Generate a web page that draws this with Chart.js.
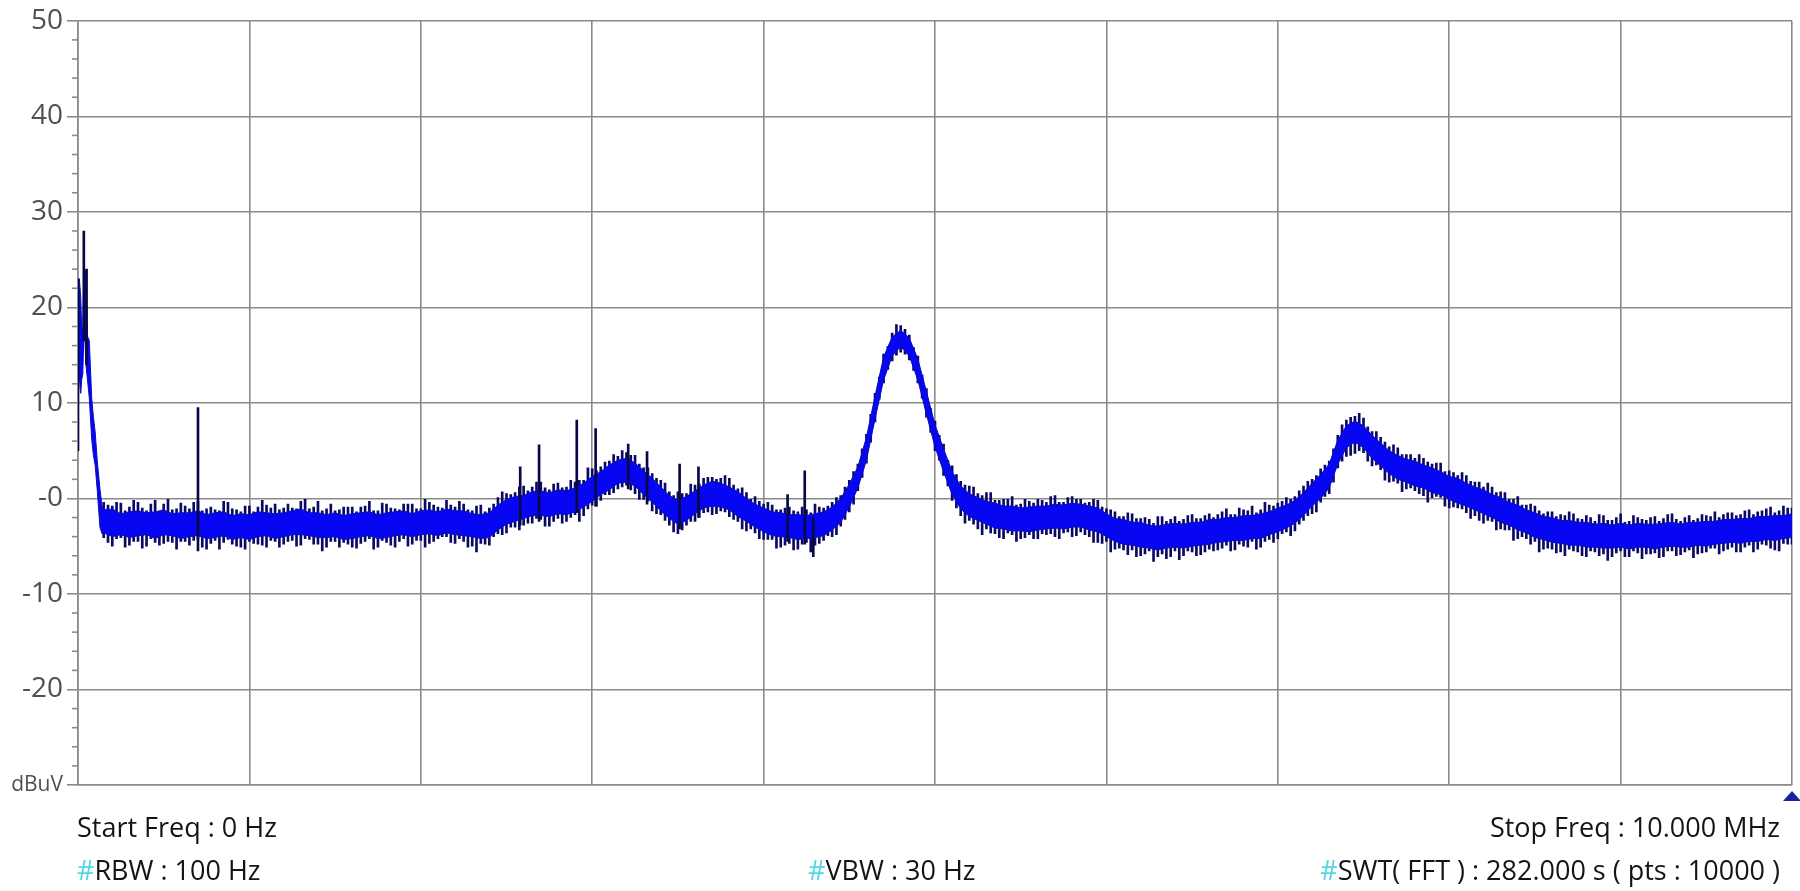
<!DOCTYPE html>
<html>
<head>
<meta charset="utf-8">
<title>Spectrum 0 - 10 MHz</title>
<script src="https://cdn.jsdelivr.net/npm/chart.js@4.4.1/dist/chart.umd.min.js"></script>
<style>
  html, body { margin: 0; padding: 0; background: #fff; }
  #wrap { width: 1800px; height: 891px; }
</style>
</head>
<body>
<div id="wrap"><canvas id="spec" width="1800" height="891"></canvas></div>
<script>
// y axis (dBuV)
const yTicks = [-30, -20, -10, 0, 10, 20, 30, 40, 50];
const yTickLabels = ["dBuV", "-20", "-10", "-0", "10", "20", "30", "40", "50"];

// start of sweep, MHz (steep low-frequency rise)
const headFreq = [0, 0.008, 0.016, 0.022, 0.028, 0.034, 0.04, 0.046, 0.055, 0.066, 0.08, 0.09, 0.1, 0.113, 0.128, 0.14];
const headHi   = [22.5, 23.0, 21.0, 17.5, 18.0, 24.0, 24.0, 23.5, 17.0, 16.5, 10.5, 8.5, 7.0, 3.8, 1.0, -0.8];
const headLo   = [9.5, 13.0, 11.0, 12.5, 13.0, 17.0, 17.0, 14.0, 12.5, 10.5, 6.2, 4.5, 3.5, 0.7, -3.0, -3.7];

// trace band, 0.15 MHz .. 10 MHz every 0.05 MHz
const BAND_START = 0.15, BAND_STEP = 0.05;
const bandHi = [
  -1.2,-1.1,-1.6,-1.4,-1.3,-1.5,-1.4,-1.2,-1.6,-1.5,
  -1.5,-1.3,-1.7,-1.5,-1.4,-1.8,-1.6,-1.7,-1.4,-1.5,
  -1.6,-1.5,-1.3,-1.1,-1.5,-1.5,-1.7,-1.5,-1.8,-1.6,
  -1.5,-1.4,-1.7,-1.5,-1.4,-1.3,-1.6,-1.3,-1.2,-1.4,
  -1.1,-1.3,-1.3,-1.6,-1.7,-1.5,-0.7,-0.1,0.2,0.3,
  0.7,0.8,0.6,0.9,0.8,1.1,1.6,2.3,2.8,3.5,
  4.0,4.2,3.7,2.9,2.1,1.2,0.3,-0.2,0.2,0.8,
  1.4,1.8,1.6,1.2,0.7,0.0,-0.6,-1.0,-1.4,-1.5,
  -1.7,-1.7,-1.8,-1.6,-1.4,-0.9,0.0,1.5,3.3,6.4,
  10.7,14.8,16.9,17.6,16.8,14.6,11.2,7.7,5.2,2.8,
  1.3,0.5,0.1,-0.3,-0.5,-0.8,-0.8,-1.0,-0.9,-0.8,
  -0.8,-0.6,-0.7,-0.5,-0.6,-0.8,-1.0,-1.6,-2.1,-2.2,
  -2.5,-2.5,-2.8,-2.9,-2.7,-2.6,-2.7,-2.5,-2.5,-2.2,
  -2.2,-2.0,-2.0,-1.8,-1.8,-1.6,-1.4,-1.0,-0.7,-0.2,
  0.6,1.6,2.5,3.6,6.1,7.6,8.1,7.6,6.6,5.8,
  5.0,4.5,4.1,3.9,3.5,3.2,2.8,2.3,2.1,1.6,
  1.2,0.9,0.4,0.1,-0.4,-0.7,-1.2,-1.5,-1.9,-2.0,
  -2.3,-2.3,-2.5,-2.5,-2.7,-2.6,-2.8,-2.6,-2.8,-2.6,
  -2.7,-2.7,-2.6,-2.5,-2.7,-2.5,-2.5,-2.4,-2.4,-2.2,
  -2.2,-2.1,-2.1,-1.9,-1.9,-1.8,-1.8,-1.6
];
const bandLo = [
  -3.6,-4.0,-3.8,-4.1,-3.9,-3.8,-4.2,-3.8,-3.9,-4.2,
  -4.0,-3.9,-4.2,-4.1,-3.9,-4.3,-4.1,-4.3,-4.0,-3.9,
  -4.2,-4.0,-3.8,-3.8,-3.9,-4.1,-4.1,-4.0,-4.3,-4.2,
  -4.0,-3.9,-4.2,-4.1,-3.9,-3.8,-4.0,-3.8,-3.7,-3.9,
  -3.6,-3.8,-3.9,-4.0,-4.2,-4.1,-3.3,-2.7,-2.4,-2.1,
  -1.8,-1.8,-1.9,-1.6,-1.7,-1.4,-0.9,-0.3,0.4,0.9,
  1.6,1.7,1.3,0.4,-0.4,-1.3,-2.1,-2.7,-2.3,-1.6,
  -1.0,-0.8,-0.9,-1.2,-1.9,-2.4,-3.0,-3.5,-3.9,-4.0,
  -4.1,-4.3,-4.2,-4.1,-3.9,-3.3,-2.5,-0.9,1.1,4.0,
  8.3,12.4,14.9,15.9,14.9,12.4,8.8,5.4,2.8,0.4,
  -1.1,-1.9,-2.3,-2.7,-3.1,-3.2,-3.4,-3.4,-3.5,-3.3,
  -3.2,-3.1,-3.2,-3.0,-3.0,-3.3,-3.5,-4.0,-4.5,-4.8,
  -4.9,-5.1,-5.2,-5.4,-5.2,-5.1,-5.2,-5.0,-4.9,-4.8,
  -4.6,-4.5,-4.4,-4.4,-4.2,-4.2,-3.8,-3.5,-3.1,-2.6,
  -1.8,-0.8,0.0,1.1,3.6,5.3,5.9,5.3,4.2,3.4,
  2.6,2.0,1.7,1.3,1.1,0.6,0.4,-0.1,-0.5,-0.8,
  -1.2,-1.6,-2.0,-2.5,-2.8,-3.3,-3.6,-4.1,-4.3,-4.6,
  -4.7,-4.9,-4.9,-5.1,-5.1,-5.2,-5.2,-5.1,-5.3,-5.1,
  -5.1,-5.3,-5.1,-5.0,-5.1,-5.1,-4.9,-5.0,-4.8,-4.7,
  -4.6,-4.7,-4.5,-4.5,-4.3,-4.4,-4.2,-4.1
];

// noise excursions at the band samples (same 0.05 MHz grid)
const edgeHi = [
  -0.4,-0.8,-0.5,-0.9,-0.4,-1.3,-0.2,-0.6,-1.2,-0.5,
  -1.1,-0.3,-1.1,-1.2,-0.3,-1.1,-1.4,-0.8,-0.9,-0.7,
  -0.6,-1.0,-1.0,-0.3,-1.1,-0.3,-1.1,-1.3,-0.9,-0.9,
  -0.9,-0.3,-1.3,-0.6,-1.1,-0.6,-0.6,-1.1,-0.4,-0.9,
  -0.2,-0.9,-0.6,-1.3,-0.7,-1.0,0.1,0.5,0.6,1.3,
  1.2,1.7,0.9,1.6,1.2,1.7,1.9,3.1,3.3,3.9,
  4.4,4.8,4.5,3.2,2.6,1.9,0.7,0.7,0.5,1.4,
  2.1,2.2,2.1,2.1,1.0,0.6,0.2,-0.6,-0.7,-1.2,
  -0.9,-1.4,-1.2,-0.6,-1.0,-0.4,0.3,1.9,3.6,6.7,
  11.0,15.1,17.3,18.1,17.1,14.9,11.5,8.1,5.7,3.4,
  1.8,1.3,0.5,0.6,-0.2,-0.1,0.2,-0.6,-0.3,0.0,
  -0.4,0.3,-0.4,0.2,0.0,-0.4,-0.2,-1.1,-1.4,-1.9,
  -1.6,-2.1,-2.2,-1.9,-2.4,-1.9,-2.2,-1.7,-2.1,-1.6,
  -1.7,-1.1,-1.7,-1.2,-0.8,-1.2,-0.7,-0.5,0.1,0.2,
  1.3,2.0,3.1,3.9,6.6,8.2,8.6,8.4,7.0,6.4,
  5.4,5.3,4.6,4.2,4.2,3.6,3.7,2.9,2.4,2.4,
  1.7,1.2,1.2,0.7,0.0,0.2,-0.7,-0.8,-1.6,-1.4,
  -1.7,-1.4,-2.1,-1.8,-2.4,-1.8,-2.3,-1.6,-2.4,-2.0,
  -2.3,-1.9,-2.1,-1.6,-2.4,-1.8,-2.1,-1.8,-1.4,-1.7,
  -1.5,-1.7,-1.2,-1.4,-1.1,-1.5,-0.8,-1.0
];
const edgeLo = [
  -4.1,-5.0,-4.1,-4.9,-4.5,-5.0,-4.6,-4.7,-4.6,-4.5,
  -4.9,-4.3,-5.3,-4.4,-4.6,-4.8,-5.1,-4.5,-4.8,-5.1,
  -4.5,-4.8,-4.4,-4.9,-4.3,-4.8,-5.1,-4.5,-4.6,-5.1,
  -4.7,-4.2,-5.1,-4.6,-5.1,-4.2,-4.8,-4.4,-4.7,-4.2,
  -4.0,-4.7,-4.5,-5.0,-4.7,-4.9,-3.7,-3.6,-3.0,-2.8,
  -2.6,-2.2,-2.9,-2.1,-2.4,-1.7,-1.8,-0.7,-0.2,0.4,
  1.0,1.4,0.5,-0.1,-1.3,-1.7,-2.8,-3.7,-2.8,-2.4,
  -1.5,-1.7,-1.3,-1.9,-2.4,-3.4,-3.6,-4.3,-4.3,-5.1,
  -4.7,-5.3,-4.6,-4.9,-4.4,-4.0,-2.9,-1.4,0.8,3.7,
  8.0,12.1,14.4,15.3,14.5,12.1,8.5,5.0,2.4,-0.2,
  -1.8,-2.3,-3.2,-3.2,-3.7,-4.2,-3.8,-4.2,-3.8,-4.2,
  -3.8,-4.0,-3.6,-4.0,-3.5,-4.0,-4.6,-4.5,-5.3,-5.4,
  -5.4,-6.0,-5.5,-6.1,-6.3,-5.5,-6.0,-5.6,-5.9,-5.3,
  -5.4,-4.9,-5.4,-5.0,-4.5,-5.1,-4.3,-4.2,-3.5,-3.4,
  -2.3,-1.6,-0.4,0.5,3.2,4.4,4.7,4.8,3.4,3.0,
  1.7,1.6,1.0,0.8,0.3,0.0,0.1,-1.0,-1.0,-1.5,
  -1.8,-2.6,-2.4,-3.2,-3.3,-4.2,-4.2,-4.5,-5.3,-5.3,
  -5.6,-5.3,-5.6,-6.1,-5.6,-5.8,-6.1,-5.5,-6.1,-5.7,
  -5.8,-5.7,-6.1,-5.5,-5.9,-5.4,-5.8,-5.6,-5.2,-5.5,
  -5.1,-5.6,-4.9,-5.3,-4.9,-5.4,-4.7,-4.8
];

// noise teeth between the samples, 0.175 MHz .. 9.975 MHz every 0.05 MHz
const TEETH_START = 0.175, TEETH_STEP = 0.05;
const teethHi = [
  -0.7,-0.4,-1.3,-0.2,-1.0,-0.6,-1.4,0.0,-1.1,-0.8,
  -0.4,-1.3,-0.9,-1.3,-0.4,-1.2,-0.8,-1.4,-0.2,-1.0,
  -1.2,-0.6,-1.1,-0.1,-0.9,-1.3,-0.6,-1.2,-0.9,-1.4,
  -0.8,-1.3,-0.5,-1.0,-1.2,-0.6,-1.1,-0.1,-0.7,-1.0,
  -0.7,-0.3,-1.2,-0.8,-1.4,-0.6,0.7,0.4,1.2,0.8,
  1.7,1.1,1.5,1.1,1.9,1.9,3.2,2.9,3.8,4.6,
  5.0,4.5,3.6,3.2,2.1,1.6,0.3,0.5,1.5,1.5,
  2.2,2.0,2.4,1.4,1.1,0.0,-0.3,-0.4,-1.2,-1.0,
  -1.3,-0.9,-1.5,-0.9,-0.8,0.1,1.2,2.8,5.2,8.8,
  12.7,15.9,18.2,17.7,15.8,12.9,9.4,6.6,4.0,2.5,
  1.4,1.2,0.3,0.6,-0.2,-0.1,-0.7,0.0,-0.5,-0.2,
  0.2,-0.4,0.1,0.0,-0.5,-0.1,-0.9,-1.2,-1.9,-1.5,
  -2.1,-2.0,-2.6,-1.9,-2.2,-2.4,-1.8,-2.1,-1.8,-2.0,
  -1.4,-1.7,-1.0,-1.3,-1.5,-0.4,-0.8,-0.3,-0.1,0.8,
  1.8,2.4,3.5,5.2,7.7,8.5,8.9,7.5,7.0,5.9,
  5.6,4.6,4.6,4.6,3.8,3.7,2.8,2.7,2.7,1.8,
  1.7,1.6,0.6,0.6,0.0,-0.7,-0.6,-1.3,-1.4,-1.9,
  -1.8,-1.6,-2.2,-2.0,-1.7,-2.3,-2.0,-2.5,-1.8,-2.2,
  -2.0,-2.4,-1.7,-2.2,-2.0,-2.3,-1.7,-1.9,-2.0,-1.5,
  -1.8,-1.3,-1.7,-1.3,-0.9,-1.3,-1.0
];
const teethLo = [
  -4.6,-4.2,-5.1,-4.5,-5.2,-4.2,-4.9,-4.5,-5.3,-4.5,
  -4.4,-5.1,-4.7,-5.3,-4.3,-5.0,-5.3,-4.7,-4.9,-4.4,
  -5.1,-4.5,-5.0,-4.2,-4.8,-5.5,-4.5,-5.1,-4.8,-5.2,
  -4.5,-5.3,-4.4,-4.9,-4.5,-5.0,-4.4,-5.1,-4.5,-4.0,
  -4.6,-4.2,-5.1,-5.6,-4.8,-4.0,-3.8,-3.0,-3.3,-2.6,
  -2.1,-2.9,-2.4,-2.6,-2.0,-2.4,-1.1,-0.8,0.4,0.6,
  1.2,0.9,-0.1,-0.3,-1.6,-2.3,-3.5,-3.3,-2.4,-2.0,
  -1.4,-1.6,-1.4,-2.2,-3.2,-3.2,-4.2,-4.3,-5.2,-4.9,
  -5.4,-4.8,-5.6,-4.7,-3.9,-3.8,-2.2,-0.6,2.2,5.9,
  10.4,13.5,15.0,15.1,13.4,10.5,6.9,4.0,1.3,-1.0,
  -2.6,-2.7,-3.8,-3.6,-4.1,-3.6,-4.5,-4.1,-4.2,-3.7,
  -3.7,-4.2,-3.5,-3.9,-3.8,-4.6,-4.7,-5.6,-5.2,-5.9,
  -6.1,-5.8,-6.6,-5.8,-6.1,-6.4,-5.5,-6.0,-5.6,-5.5,
  -5.2,-5.5,-4.8,-5.1,-5.3,-4.5,-4.6,-3.7,-3.9,-2.7,
  -1.8,-1.4,0.2,1.7,3.9,4.5,5.0,3.9,3.5,1.9,
  1.8,0.7,1.1,0.5,-0.4,0.2,-0.8,-0.9,-1.1,-2.1,
  -2.3,-2.3,-3.3,-3.3,-4.4,-4.0,-4.8,-5.6,-5.2,-5.7,
  -6.0,-5.5,-6.0,-5.5,-6.0,-6.5,-5.7,-6.1,-5.5,-6.3,
  -5.8,-6.2,-5.5,-6.0,-5.6,-6.2,-5.7,-5.2,-5.8,-5.3,
  -5.6,-5.1,-5.6,-4.8,-5.2,-5.5,-4.8
];

// isolated spurs: frequency (MHz), bottom and top (dBuV)
const spurFreq = [0.0, 0.034, 0.05, 0.70, 2.58, 2.69, 2.91, 3.02, 3.21, 3.32, 3.51, 3.62, 4.14, 4.24, 4.29];
const spurLo   = [5.0, 16.5, 14.0, -5.5, -2.8, -2.4, -1.5, -0.8, 1.0, -0.6, -3.2, -2.0, -4.5, -4.8, -6.1];
const spurHi   = [23.0, 28.0, 24.0, 9.5, 3.3, 5.6, 8.2, 7.3, 5.7, 4.9, 3.6, 3.3, 0.4, 2.9, -2.0];

const GRID = "#8a8a8a";
const TRACE = "#0606f2";
const DARK = "#0a0a66";

function bandFreq(i) {
  return +(BAND_START + i * BAND_STEP).toFixed(3);
}

function bandPoints(head, body) {
  const pts = headFreq.map((f, i) => ({ x: f, y: head[i] }));
  body.forEach((v, i) => pts.push({ x: bandFreq(i), y: v }));
  return pts;
}

const teethPts = teethHi.map((v, i) => ({ x: +(TEETH_START + i * TEETH_STEP).toFixed(3), y: [teethLo[i], v] }));
const edgePts = edgeHi.map((v, i) => ({ x: bandFreq(i), y: [edgeLo[i], v] }));
const spurPts = spurFreq.map((f, i) => ({ x: f, y: [spurLo[i], spurHi[i]] }));

// small 2 dB ticks on the left axis + marker + footer readouts
const extras = {
  id: "extras",
  afterDraw(chart) {
    const { ctx, chartArea, scales } = chart;
    const y = scales.y;
    ctx.save();
    ctx.strokeStyle = GRID;
    ctx.lineWidth = 1.6;
    for (let v = -30; v <= 50; v += 2) {
      if (v % 10 === 0) continue;
      const py = y.getPixelForValue(v);
      ctx.beginPath();
      ctx.moveTo(chartArea.left - 6, py);
      ctx.lineTo(chartArea.left, py);
      ctx.stroke();
    }

    // stop marker
    const mx = scales.x.getPixelForValue(10);
    ctx.fillStyle = "#1a239a";
    ctx.beginPath();
    ctx.moveTo(mx, chartArea.bottom + 6);
    ctx.lineTo(mx + 9, chartArea.bottom + 16);
    ctx.lineTo(mx - 9, chartArea.bottom + 16);
    ctx.closePath();
    ctx.fill();

    ctx.font = '27px "Open Sans", "Noto Sans", sans-serif';
    ctx.textBaseline = "alphabetic";
    ctx.textAlign = "left";
    const put = (text, x, yb, align, hash) => {
      const hw = hash ? ctx.measureText("#").width : 0;
      const w = ctx.measureText(text).width + hw;
      let sx = align === "right" ? x - w : x;
      if (hash) {
        ctx.fillStyle = "#52d6e6";
        ctx.fillText("#", sx, yb);
        sx += hw;
      }
      ctx.fillStyle = "#141414";
      ctx.fillText(text, sx, yb);
    };
    put("Start Freq : 0 Hz", 77, 837, "left", false);
    put("RBW : 100 Hz", 77, 880, "left", true);
    put("VBW : 30 Hz", 808, 880, "left", true);
    put("Stop Freq : 10.000 MHz", 1780, 837, "right", false);
    put("SWT( FFT ) : 282.000 s ( pts : 10000 )", 1780, 880, "right", true);
    ctx.restore();
  }
};

new Chart(document.getElementById("spec"), {
  type: "line",
  data: {
    datasets: [
      {
        type: "line",
        data: bandPoints(headHi, bandHi),
        borderColor: "#0c0cc0",
        borderWidth: 1,
        pointRadius: 0,
        fill: false,
        order: 1
      },
      {
        type: "line",
        data: bandPoints(headLo, bandLo),
        borderColor: "#0c0cc0",
        borderWidth: 1,
        pointRadius: 0,
        fill: "-1",
        backgroundColor: TRACE,
        order: 1
      },
      {
        type: "bar",
        data: teethPts,
        backgroundColor: DARK,
        barThickness: 2,
        grouped: false,
        order: 2
      },
      {
        type: "bar",
        data: edgePts,
        backgroundColor: DARK,
        barThickness: 2,
        grouped: false,
        order: 2
      },
      {
        type: "bar",
        data: spurPts,
        backgroundColor: "#080848",
        barThickness: 2,
        grouped: false,
        order: 0
      }
    ]
  },
  options: {
    responsive: false,
    animation: false,
    events: [],
    layout: { padding: { top: 16, right: 8, bottom: 106, left: 0 } },
    plugins: { legend: { display: false }, tooltip: { enabled: false } },
    scales: {
      x: {
        type: "linear",
        min: 0,
        max: 10,
        offset: false,
        ticks: { display: false, stepSize: 1 },
        grid: { color: GRID, lineWidth: 1.6, drawTicks: false, offset: false },
        border: { display: true, color: GRID, width: 1.6 },
        afterFit: s => { s.height = 0; }
      },
      y: {
        min: -30,
        max: 50,
        afterBuildTicks: s => { s.ticks = yTicks.map(v => ({ value: v })); },
        ticks: {
          color: "#505050",
          padding: 4,
          font: c => ({ family: '"Open Sans", "Noto Sans", sans-serif', size: c.tick && c.tick.value === -30 ? 21 : 28 }),
          callback: v => yTickLabels[yTicks.indexOf(v)]
        },
        grid: { color: GRID, lineWidth: 1.6, tickLength: 11, tickColor: GRID, tickWidth: 1.6 },
        border: { display: true, color: GRID, width: 1.6 },
        afterFit: s => { s.width = 78; }
      }
    }
  },
  plugins: [extras]
});
</script>
</body>
</html>
